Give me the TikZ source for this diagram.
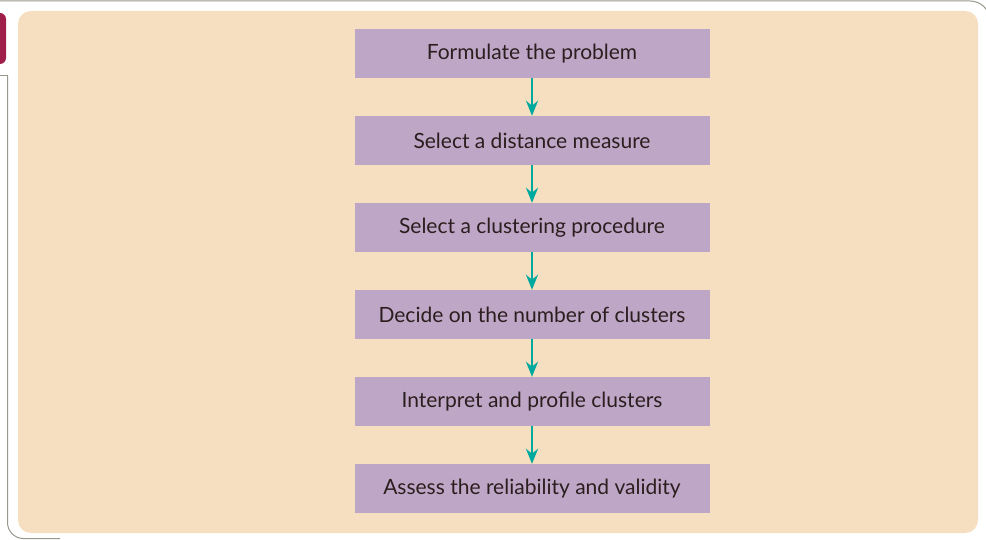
\documentclass[tikz,border=0pt]{standalone}
\usepackage{fontspec}
\setmainfont{Lato}
\usetikzlibrary{arrows.meta}
\definecolor{beige}{HTML}{F5DFC0}
\definecolor{lilac}{HTML}{BEA6C6}
\definecolor{teal}{HTML}{00A99D}
\definecolor{ink}{HTML}{2B1E1E}
\definecolor{wine}{HTML}{A01E4A}
\definecolor{frame}{HTML}{9A988C}
\tikzset{
  stepbox/.style={fill=lilac, draw=none, minimum width=355pt, minimum height=49pt,
    inner sep=0pt, text=ink, font=\fontsize{21}{24}\selectfont},
  flow/.style={draw=teal, line width=2.2pt, -{Stealth[length=15pt,width=12pt]}}
}
\begin{document}
\begin{tikzpicture}[x=1pt,y=-1pt]
\useasboundingbox (0,0) rectangle (986,540);
\fill[white] (0,0) rectangle (986,540);
% outer frame
\draw[frame, line width=1pt, rounded corners=20pt] (0,1) -- (990,1) -- (990,60);
\draw[frame, line width=1pt] (0,75.5) -- (7.5,75.5);
\draw[frame, line width=1pt, rounded corners=16pt] (7.5,75.5) -- (7.5,538.5) -- (60,538.5);
\fill[wine, rounded corners=6pt] (-10,13) rectangle (6,64);
% background panel
\fill[beige, rounded corners=13pt] (18,11) rectangle (978,533);
% steps
\node[stepbox] (s1) at (532,53.5) {Formulate the problem};
\node[stepbox] (s2) at (532,140.5) {Select a distance measure};
\node[stepbox] (s3) at (532,227.5) {Select a clustering procedure};
\node[stepbox] (s4) at (532,314.5) {Decide on the number of clusters};
\node[stepbox] (s5) at (532,401.5) {Interpret and profile clusters};
\node[stepbox] (s6) at (532,488.5) {Assess the reliability and validity};
\draw[flow] (s1) -- (s2);
\draw[flow] (s2) -- (s3);
\draw[flow] (s3) -- (s4);
\draw[flow] (s4) -- (s5);
\draw[flow] (s5) -- (s6);
\end{tikzpicture}
\end{document}
